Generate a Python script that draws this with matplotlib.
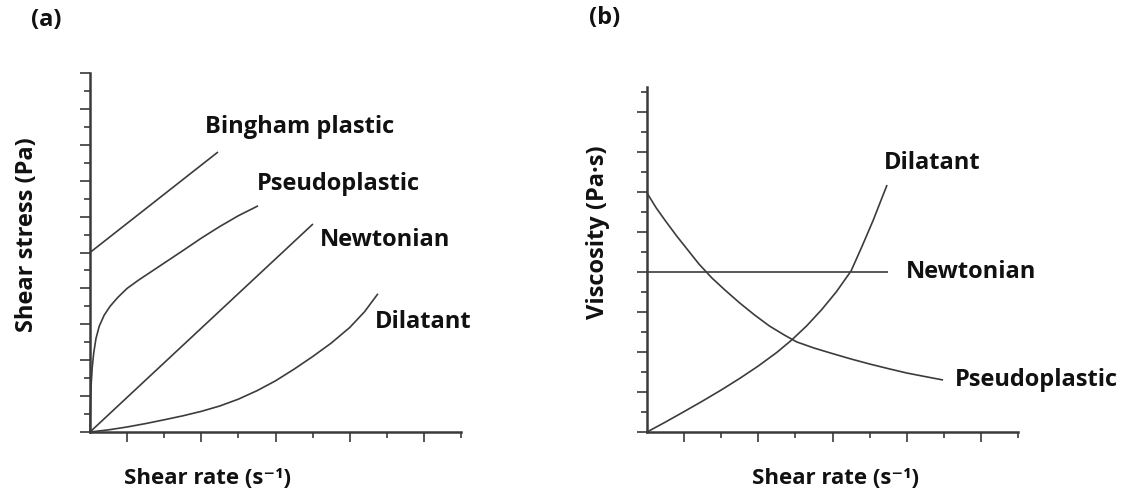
import matplotlib
matplotlib.use("Agg")
import matplotlib.pyplot as plt

# ---- (a) shear stress vs shear rate ----
bingham_x = [0.0, 3.45]
bingham_y = [10.0, 15.6]

pseudo_a_x = [0, 0.01, 0.03, 0.06, 0.1, 0.16, 0.25, 0.38, 0.54, 0.75, 1.0,
              1.3, 1.7, 2.1, 2.5, 3.0, 3.5, 4.0, 4.53]
pseudo_a_y = [0, 1.4, 2.6, 3.6, 4.4, 5.2, 5.9, 6.5, 7.0, 7.5, 8.0,
              8.45, 9.0, 9.55, 10.1, 10.8, 11.45, 12.05, 12.6]

newton_a_x = [0.0, 6.01]
newton_a_y = [0.0, 11.59]

dilat_a_x = [0, 0.5, 1.0, 1.5, 2.0, 2.5, 3.0, 3.5, 4.0, 4.5, 5.0, 5.5, 6.0,
             6.5, 7.0, 7.4, 7.76]
dilat_a_y = [0, 0.12, 0.28, 0.47, 0.68, 0.9, 1.15, 1.45, 1.83, 2.3, 2.85,
             3.5, 4.2, 4.95, 5.82, 6.7, 7.7]

# ---- (b) viscosity vs shear rate ----
newton_b_x = [0.0, 6.5]
newton_b_y = [8.0, 8.0]

pseudo_b_x = [0, 0.25, 0.5, 0.8, 1.1, 1.4, 1.75, 2.1, 2.5, 2.9, 3.3, 3.7,
              4.04, 4.5, 5.0, 5.5, 6.0, 6.5, 7.0, 7.5, 7.98]
pseudo_b_y = [11.95, 11.2, 10.55, 9.8, 9.1, 8.4, 7.7, 7.1, 6.45, 5.85, 5.3,
              4.85, 4.5, 4.2, 3.92, 3.65, 3.4, 3.17, 2.95, 2.77, 2.6]

dilat_b_x = [0, 0.5, 1.0, 1.5, 2.0, 2.5, 3.0, 3.5, 3.9, 4.3, 4.7, 5.1, 5.5,
             5.8, 6.1, 6.3, 6.47]
dilat_b_y = [0, 0.5, 1.02, 1.55, 2.1, 2.68, 3.3, 3.98, 4.6, 5.3, 6.1, 7.0,
             8.05, 9.3, 10.6, 11.55, 12.35]

FONT = ["Open Sans", "DejaVu Sans"]
LINE = "#3c3c3c"
AXC = "#3a3a3a"
W, H = 1130, 500

fig = plt.figure(figsize=(W / 100, H / 100), dpi=100)
fig.patch.set_facecolor("white")


def make_axes(x0, y0, x1, y1, ymax, ytop):
    ax = fig.add_axes([x0 / W, (H - y0) / H, (x1 - x0) / W, (y0 - y1) / H])
    ax.set_xlim(0, 10)
    ax.set_ylim(0, ytop)
    for s in ("top", "right"):
        ax.spines[s].set_visible(False)
    for s in ("left", "bottom"):
        ax.spines[s].set_linewidth(1.8)
        ax.spines[s].set_color(AXC)
    ax.set_xticks([1, 3, 5, 7, 9])
    ax.set_xticks([2, 4, 6, 8, 10], minor=True)
    ax.set_yticks(list(range(0, ymax + 1, 2)))
    ax.set_yticks(list(range(1, ymax + 1, 2)), minor=True)
    ax.tick_params(which="major", length=7, width=1.2, color=AXC,
                   labelbottom=False, labelleft=False, direction="out")
    ax.tick_params(which="minor", length=4.5, width=1.2, color=AXC,
                   labelbottom=False, labelleft=False, direction="out")
    ax.patch.set_alpha(0)
    return ax


axa = make_axes(90, 432, 461, 73, 20, 20)
axb = make_axes(647, 432, 1018, 87, 17, 17.25)

kw = dict(color=LINE, lw=1.2, solid_capstyle="butt", solid_joinstyle="round",
          clip_on=False)
axa.plot(bingham_x, bingham_y, **kw)
axa.plot(pseudo_a_x, pseudo_a_y, **kw)
axa.plot(newton_a_x, newton_a_y, **kw)
axa.plot(dilat_a_x, dilat_a_y, **kw)

axb.plot(newton_b_x, newton_b_y, **kw)
axb.plot(pseudo_b_x, pseudo_b_y, **kw)
axb.plot(dilat_b_x, dilat_b_y, **kw)

tk = dict(fontsize=17, fontweight="bold", family=FONT, color="#111111",
          va="center", ha="left")
axa.text(3.1, 17.0, "Bingham plastic", **tk)
axa.text(4.5, 13.8, "Pseudoplastic", **tk)
axa.text(6.2, 10.7, "Newtonian", **tk)
axa.text(7.68, 6.13, "Dilatant", **tk)

axb.text(6.39, 13.45, "Dilatant", **tk)
axb.text(6.98, 8.0, "Newtonian", **tk)
axb.text(8.3, 2.6, "Pseudoplastic", **tk)

lk = dict(fontsize=17, fontweight="bold", family=FONT, color="#111111",
          ha="center", va="center")
xk = dict(lk, fontsize=16)
fig.text(207 / W, (H - 478) / H, "Shear rate (s\u207b\u00b9)", **xk)
fig.text(835 / W, (H - 478) / H, "Shear rate (s\u207b\u00b9)", **xk)
fig.text(27 / W, (H - 235) / H, "Shear stress (Pa)", rotation=90, **lk)
fig.text(598 / W, (H - 232) / H, "Viscosity (Pa\u00b7s)", rotation=90, **lk)

fig.text(46 / W, (H - 20) / H, "(a)", **lk)
fig.text(605 / W, (H - 18) / H, "(b)", **lk)

fig.savefig("out.png", dpi=100, facecolor="white")
